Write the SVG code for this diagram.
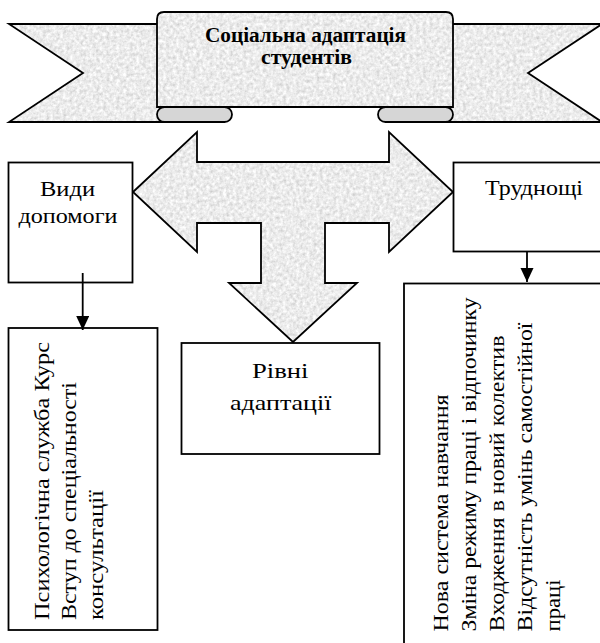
<svg xmlns="http://www.w3.org/2000/svg" width="600" height="643" viewBox="0 0 600 643">
<style>
.box{fill:#fff;stroke:#000;stroke-width:1.8}
.sh{stroke:#000;stroke-width:1.8;stroke-linejoin:miter}
.tx{font-family:"Liberation Serif","Times New Roman",serif;font-size:21px;fill:#000}
.ti{font-family:"Liberation Serif","Times New Roman",serif;font-size:20px;font-weight:bold;fill:#000}
.cn{stroke:#000;stroke-width:1.8;fill:none}
</style>
<defs>
<filter id="tex" x="0" y="0" width="100%" height="100%">
<feTurbulence type="fractalNoise" baseFrequency="0.3" numOctaves="3" seed="4" result="n"/>
<feColorMatrix in="n" type="matrix" values="0.55 0 0 0 0.56  0.55 0 0 0 0.56  0.55 0 0 0 0.56  0 0 0 0 1"/>
</filter>
<pattern id="grain" patternUnits="userSpaceOnUse" x="0" y="0" width="600" height="643">
<rect width="600" height="643" filter="url(#tex)"/>
</pattern>
<marker id="ah" markerUnits="userSpaceOnUse" markerWidth="14" markerHeight="14" refX="14" refY="6.5" orient="auto">
<path d="M0,0 L14,6.5 L0,13 z" fill="#000"/>
</marker>
</defs>

<g id="banner">
<polygon class="sh" fill="url(#grain)" points="9,24 170,24 170,122 9,122 83,73"/>
<polygon class="sh" fill="url(#grain)" points="602,24 440,24 440,122 602,122 528,73"/>
<rect class="sh" fill="#d6d6d6" x="157" y="107" width="75" height="15" rx="7.5" ry="7.5"/>
<rect class="sh" fill="#d6d6d6" x="378" y="107" width="75" height="15" rx="7.5" ry="7.5"/>
<path class="sh" fill="url(#grain)" d="M157,107 L157,19 Q157,12 164,12 L446,12 Q453,12 453,19 L453,107 Z"/>
<text class="ti" x="205" y="41.5" textLength="201" lengthAdjust="spacingAndGlyphs">Соціальна адаптація</text>
<text class="ti" x="261" y="64" textLength="91" lengthAdjust="spacingAndGlyphs">студентів</text>
</g>

<g id="t-arrow">
<polygon class="sh" fill="url(#grain)" points="133,192 197,132 197,162 389,162 389,132 453,192 389,252 389,223 325,223 325,283 357,283 293,342 229,283 261,283 261,223 197,223 197,252"/>
</g>

<g id="vydy">
<rect class="box" x="8.5" y="162.5" width="124" height="120"/>
<text class="tx" x="40" y="196" textLength="55" lengthAdjust="spacingAndGlyphs">Види</text>
<text class="tx" x="18.5" y="222.5" textLength="99" lengthAdjust="spacingAndGlyphs">допомоги</text>
</g>

<g id="trudnoshchi">
<rect class="box" x="453.5" y="162.5" width="170" height="89"/>
<text class="tx" x="485" y="195" textLength="98" lengthAdjust="spacingAndGlyphs">Труднощі</text>
</g>

<g id="rivni">
<rect class="box" x="181.5" y="343" width="198" height="111"/>
<text class="tx" x="252" y="378" textLength="56.5" lengthAdjust="spacingAndGlyphs">Рівні</text>
<text class="tx" x="230" y="410" textLength="101.5" lengthAdjust="spacingAndGlyphs">адаптації</text>
</g>

<g id="vydy-list">
<rect class="box" x="8.5" y="328" width="149" height="302"/>
<g transform="translate(0,620) rotate(-90)">
<text class="tx" x="0" y="48.5" textLength="278" lengthAdjust="spacingAndGlyphs">Психологічна служба Курс</text>
<text class="tx" x="0" y="75.5" textLength="238" lengthAdjust="spacingAndGlyphs">Вступ до спеціальності</text>
<text class="tx" x="0" y="102.5" textLength="130" lengthAdjust="spacingAndGlyphs">консультації</text>
</g>
</g>

<g id="trudnoshchi-list">
<rect class="box" x="404" y="283.5" width="220" height="380"/>
<g transform="translate(0,631.5) rotate(-90)">
<text class="tx" x="0" y="448" textLength="237" lengthAdjust="spacingAndGlyphs">Нова система навчання</text>
<text class="tx" x="0" y="476" textLength="334" lengthAdjust="spacingAndGlyphs">Зміна режиму праці і відпочинку</text>
<text class="tx" x="0" y="504" textLength="296" lengthAdjust="spacingAndGlyphs">Входження в новий колектив</text>
<text class="tx" x="0" y="532" textLength="309" lengthAdjust="spacingAndGlyphs">Відсутність умінь самостійної</text>
<text class="tx" x="0" y="560" textLength="52" lengthAdjust="spacingAndGlyphs">праці</text>
</g>
</g>

<g id="connectors">
<line class="cn" x1="82.7" y1="273" x2="82.7" y2="330" marker-end="url(#ah)"/>
<line class="cn" x1="527" y1="252" x2="527" y2="282" marker-end="url(#ah)"/>
</g>
</svg>
